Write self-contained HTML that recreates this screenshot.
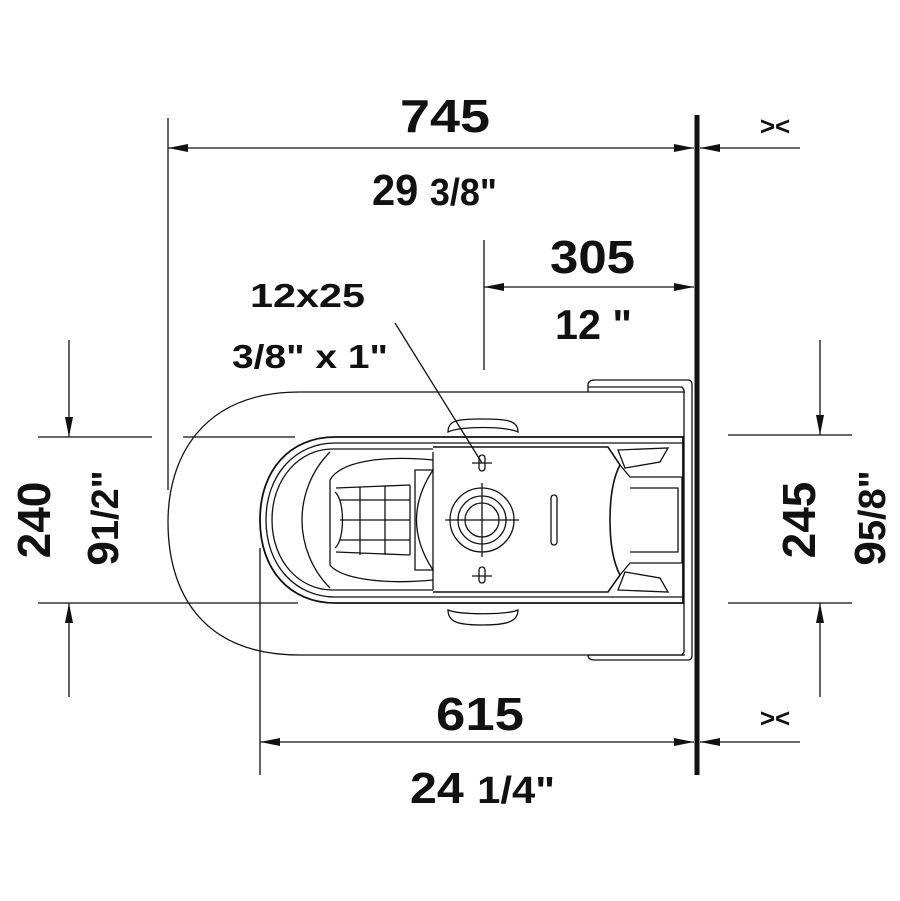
<!DOCTYPE html>
<html><head><style>
html,body{margin:0;padding:0;background:#fff;}
svg{display:block;}
text{font-family:"Liberation Sans Narrow","Liberation Sans",sans-serif;font-weight:bold;fill:#111;}
</style></head><body>
<svg width="900" height="901" viewBox="0 0 900 901" xmlns="http://www.w3.org/2000/svg">
<defs>
<marker id="a" viewBox="0 0 20 8" refX="20" refY="4" markerWidth="20" markerHeight="8" markerUnits="userSpaceOnUse" orient="auto"><path d="M0,0 L20,4 L0,8 z" fill="#111"/></marker>
</defs>
<g stroke="#111" stroke-width="1.3" fill="none">
<line x1="697" y1="115" x2="697" y2="775" stroke-width="5"/>
<line x1="168" y1="118" x2="168" y2="490"/>
<line x1="445" y1="148" x2="168" y2="148" marker-end="url(#a)"/>
<line x1="445" y1="148" x2="694" y2="148" marker-end="url(#a)"/>
<line x1="800" y1="148" x2="700" y2="148" marker-end="url(#a)"/>
<line x1="484" y1="240" x2="484" y2="370"/>
<line x1="590" y1="287" x2="484" y2="287" marker-end="url(#a)"/>
<line x1="590" y1="287" x2="694" y2="287" marker-end="url(#a)"/>
<line x1="395" y1="323" x2="482" y2="463"/>
<line x1="260" y1="548" x2="260" y2="775"/>
<line x1="480" y1="742" x2="260" y2="742" marker-end="url(#a)"/>
<line x1="480" y1="742" x2="694" y2="742" marker-end="url(#a)"/>
<line x1="800" y1="742" x2="700" y2="742" marker-end="url(#a)"/>
<line x1="38" y1="437" x2="152" y2="437"/>
<line x1="183" y1="437" x2="295" y2="437"/>
<line x1="38" y1="603" x2="298" y2="603"/>
<line x1="69" y1="340" x2="69" y2="437" marker-end="url(#a)"/>
<line x1="69" y1="697" x2="69" y2="603" marker-end="url(#a)"/>
<line x1="728" y1="435" x2="852" y2="435"/>
<line x1="728" y1="603" x2="852" y2="603"/>
<line x1="820" y1="340" x2="820" y2="435" marker-end="url(#a)"/>
<line x1="820" y1="697" x2="820" y2="603" marker-end="url(#a)"/>

<path d="M685 392 L300 392 C200 392 168 460 168 522 C168 590 200 655 300 655 L685 655"/>
<path d="M588 392 L588 385 Q588 380 595 380 L688 380 Q692 380 692 385 L692 655 Q692 660 688 660 L595 660 Q588 660 588 655"/>
<path d="M588 387 L682 387 L684 390 L684 652 L682 655 L588 655"/>
<path d="M683 437 L335 437 C290 437 260 470 260 520 C260 570 290 603 335 603 L683 603 Z" stroke-width="1.8"/>
<path d="M683 443 L335 443 C296 443 266 474 266 520 C266 566 296 597 335 597 L683 597" />
<path d="M433 449 L332 449 C300 449 272 478 272 520 C272 562 300 590 332 590 L433 590"/>
<path d="M330 452 C312 470 302 495 302 520 C302 545 312 570 330 588"/>
<path d="M433 452 L433 590"/>
<path d="M433 460 C380 455 340 462 330 480 L330 565 C340 578 380 585 433 580"/>
<path d="M415 470 L433 470 Q400 520 433 570 L415 570 Z"/>
<path d="M336 488 L410 485 M336 552 L410 555 M340 500 L410 500 M340 520 L410 520 M340 540 L410 540 M360 487 L360 555 M385 486 L385 555 M410 485 L410 555"/>
<path d="M335 492 C345 500 345 540 335 548"/>
<path d="M433 447 L608 447 L620 465 C612 480 610 500 610 520 C610 540 612 560 620 575 L608 592 L433 592" stroke-width="1.6"/>
<path d="M620 465 L630 477 L682 477 L682 563 L630 563 L620 575"/>
<path d="M630 488 L678 488 L678 552 L630 552"/>
<path d="M618 450 L668 448 L660 462 L625 468 Z"/>
<path d="M618 590 L668 592 L660 578 L625 572 Z"/>
<path d="M448 432 C448 420 458 419 482 419 C506 419 518 420 518 432 C506 426 460 426 448 432 Z"/>
<path d="M448 610 C448 622 458 625 482 625 C506 625 518 622 518 610 C506 615 460 615 448 610 Z"/>
<circle cx="482" cy="520" r="32"/>
<circle cx="482" cy="520" r="24"/>
<circle cx="482" cy="520" r="17"/>
<line x1="445" y1="520" x2="519" y2="520"/>
<line x1="482" y1="483" x2="482" y2="557"/>
<rect x="479" y="455" width="6" height="16" rx="3"/>
<rect x="479" y="567" width="6" height="16" rx="3"/>
<line x1="472" y1="463" x2="492" y2="463"/>
<line x1="472" y1="576" x2="492" y2="576"/>
<rect x="551" y="495" width="6" height="50" rx="3"/>
</g>
<text x="400" y="132" font-size="46" textLength="90" lengthAdjust="spacingAndGlyphs">745</text>
<text x="372" y="205" font-size="44" textLength="125" lengthAdjust="spacingAndGlyphs">29 <tspan font-size="38">3/8"</tspan></text>
<text x="550" y="273" font-size="46" textLength="85" lengthAdjust="spacingAndGlyphs">305</text>
<text x="555" y="339" font-size="42" textLength="77" lengthAdjust="spacingAndGlyphs">12 "</text>
<text x="250" y="307" font-size="33" textLength="115" lengthAdjust="spacingAndGlyphs">12x25</text>
<text x="232" y="368" font-size="33" textLength="156" lengthAdjust="spacingAndGlyphs">3/8" x 1"</text>
<text x="436" y="730" font-size="46" textLength="88" lengthAdjust="spacingAndGlyphs">615</text>
<text x="410" y="803" font-size="44" textLength="145" lengthAdjust="spacingAndGlyphs">24 <tspan font-size="38">1/4"</tspan></text>
<text x="775" y="135" font-size="26" text-anchor="middle" font-weight="normal">&gt;&lt;</text>
<text x="775" y="727" font-size="26" text-anchor="middle" font-weight="normal">&gt;&lt;</text>
<text transform="translate(50,520) rotate(-90)" font-size="46" text-anchor="middle">240</text>
<text transform="translate(118,518) rotate(-90)" font-size="44" text-anchor="middle">9<tspan font-size="38">1/2"</tspan></text>
<text transform="translate(815,520) rotate(-90)" font-size="46" text-anchor="middle">245</text>
<text transform="translate(885,518) rotate(-90)" font-size="44" text-anchor="middle">9<tspan font-size="38">5/8"</tspan></text>
</svg>
</body></html>
